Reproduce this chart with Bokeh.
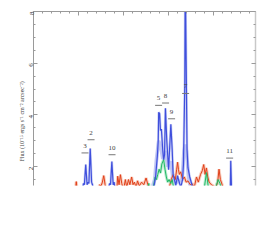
import math
from bokeh.plotting import figure
from bokeh.models import Range1d, LinearAxis, SingleIntervalTicker, Title
from bokeh.core.properties import value
from bokeh.embed import file_html
from bokeh.resources import INLINE

# ---- data (wavelength, flux in 1e-15 erg s^-1 cm^-2 arcsec^-2) ----
blue_wl = [6560, 6608, 6611, 6613, 6616, 6619, 6621, 6623, 6626, 6629, 6631, 6634,
           6665, 6669, 6671, 6674, 6677, 6679, 6682,
           6750, 6766, 6771, 6775, 6777, 6778, 6780, 6782, 6784, 6787,
           6789, 6791, 6793, 6796, 6798, 6800, 6802, 6805, 6808, 6810,
           6813, 6816, 6820, 6822, 6827, 6831, 6833, 6836, 6837, 6839,
           6841, 6843, 6847, 6851, 6856,
           6935, 6937, 6938, 6940, 6945]
blue_flux = [1.0, 1.0, 1.35, 1.3, 2.08, 1.3, 1.4, 1.35, 2.7, 1.4, 1.3, 1.0,
             1.0, 1.35, 1.3, 2.2, 1.3, 1.4, 1.0,
             1.0, 1.1, 1.58, 2.4, 3.0, 4.1, 4.05, 3.4, 3.45, 2.65,
             2.27, 2.45, 4.26, 3.0, 2.46, 1.88, 2.6, 3.64, 2.65, 1.7,
             1.5, 1.27, 1.65, 1.5, 1.2, 1.5, 2.08, 5.2, 9.5, 6.1,
             2.65, 1.96, 1.6, 1.35, 1.0,
             1.0, 1.0, 2.23, 1.0, 1.0]

blue_lt_wl = [6760, 6769, 6773, 6778, 6782, 6787, 6793, 6798, 6805, 6810,
              6820, 6830, 6834, 6837, 6840, 6844, 6850]
blue_lt_flux = [1.0, 1.5, 2.3, 3.0, 2.8, 2.3, 2.6, 2.0, 2.2, 1.5,
                1.4, 1.5, 2.6, 2.85, 2.6, 1.6, 1.1]

red_wl = [6580, 6593, 6595, 6597, 6640, 6647, 6650, 6653, 6656, 6659,
          6662, 6685, 6687, 6690, 6693, 6696, 6700, 6704, 6707, 6711,
          6714, 6718, 6721, 6724, 6728, 6731, 6735, 6740, 6745, 6750,
          6754, 6758, 6800, 6806, 6810, 6815, 6818, 6820, 6822, 6824,
          6827, 6831, 6835, 6839, 6843, 6848, 6852, 6857, 6862, 6866,
          6871, 6875, 6878, 6881, 6884, 6887, 6890, 6895, 6905, 6909,
          6912, 6915, 6919, 6925]
red_flux = [1.0, 1.1, 1.42, 1.1, 1.0, 1.3, 1.25, 1.4, 1.65, 1.3,
            1.0, 1.1, 1.63, 1.3, 1.69, 1.35, 1.1, 1.5, 1.2, 1.5,
            1.3, 1.6, 1.3, 1.4, 1.2, 1.45, 1.25, 1.4, 1.3, 1.56,
            1.3, 1.1, 1.1, 1.5, 1.69, 1.5, 1.9, 2.17, 1.88, 1.7,
            1.8, 1.5, 1.6, 1.4, 1.45, 1.3, 1.35, 1.2, 1.6, 1.4,
            1.7, 1.85, 2.08, 1.7, 1.95, 1.6, 1.4, 1.3, 1.2, 1.4,
            1.9, 1.5, 1.3, 1.0]

green_wl = [6750, 6754, 6756, 6758, 6766, 6770, 6773, 6776, 6779, 6782,
            6785, 6789, 6792, 6795, 6798, 6801, 6805, 6808, 6812,
            6878, 6884, 6889, 6905, 6910, 6914, 6920]
green_flux = [1.0, 1.2, 1.35, 1.1, 1.2, 1.6, 1.5, 1.7, 1.9, 1.75,
              2.1, 2.27, 1.9, 1.6, 1.4, 1.5, 1.35, 1.5, 1.1,
              1.0, 1.77, 1.1, 1.2, 1.5, 1.35, 1.0]

line_ids = ["3", "2", "10", "5", "8", "9", "7", "11"]
line_wl = [6614.4, 6627.8, 6674.4, 6777.8, 6793.3, 6806.7, 6837.8, 6935.6]
line_mark = [2.53, 3.04, 2.46, 4.37, 4.46, 3.85, 4.83, 2.33]

y_label = "Flux (10\u207b\u00b9\u2075 ergs s\u207b\u00b9 cm\u207b\u00b2 arcsec\u207b\u00b2)"

SERIF = "Liberation Serif"
AX = "#9a9a9a"

p = figure(width=259, height=241, output_backend="svg", toolbar_location=None,
           x_range=Range1d(6500, 6993), y_range=Range1d(1.27, 8),
           x_axis_location="above", min_border_left=33, min_border_right=4,
           min_border_top=11, min_border_bottom=56)
p.outline_line_color = None
p.background_fill_color = "white"
p.border_fill_color = "white"
p.grid.visible = False


def tick_only(ax):
    ax.major_label_text_font_size = "1px"
    ax.major_label_text_color = None
    ax.major_label_standoff = 0
    ax.major_tick_in = 4
    ax.major_tick_out = 0
    ax.minor_tick_in = 2
    ax.minor_tick_out = 0
    ax.major_tick_line_color = AX
    ax.minor_tick_line_color = AX


# top axis (ticks only)
xa = p.xaxis[0]
xa.ticker = SingleIntervalTicker(interval=100, num_minor_ticks=5)
tick_only(xa)
xa.axis_line_color = AX

ya = p.yaxis[0]
ya.ticker = SingleIntervalTicker(interval=2, num_minor_ticks=4)
ya.major_label_orientation = math.pi / 2
ya.major_label_text_font = SERIF
ya.major_label_text_font_size = "7px"
ya.major_label_text_color = "#333333"
ya.major_label_standoff = 2
ya.major_tick_in = 4
ya.major_tick_out = 0
ya.minor_tick_in = 2
ya.minor_tick_out = 0
ya.axis_line_color = AX
ya.major_tick_line_color = AX
ya.minor_tick_line_color = AX

ra = LinearAxis(ticker=SingleIntervalTicker(interval=2, num_minor_ticks=4))
tick_only(ra)
ra.axis_line_color = "#c8c8c8"
ra.axis_line_width = 1.5
p.add_layout(ra, "right")

# light envelopes
p.line(red_wl, red_flux, line_color="#f4a890", line_width=3, line_alpha=0.6)
p.line(green_wl, green_flux, line_color="#9ee6bd", line_width=3, line_alpha=0.7)
p.line(blue_lt_wl, blue_lt_flux, line_color="#b4bcf2", line_width=3.5, line_alpha=0.8)
p.line(blue_wl, blue_flux, line_color="#aab3f0", line_width=2.5, line_alpha=0.6)

# spectra
p.line(red_wl, red_flux, line_color="#e0401a", line_width=1)
p.line(green_wl, green_flux, line_color="#22b866", line_width=1)
p.line(blue_wl, blue_flux, line_color="#3f4fdc", line_width=1.2)

# line identifications
p.scatter(line_wl, line_mark, marker="dash", size=7, line_color="#777777", line_width=1)
p.text(line_wl, line_mark, text=line_ids, text_font=value(SERIF), text_font_size="7px",
       text_color="#444444", text_align="center", text_baseline="middle", y_offset=-7)

ytitle = Title(text=y_label, align="left", offset=24, standoff=0,
               text_font=SERIF, text_font_size="6px", text_font_style="normal",
               text_color="#444444")
p.add_layout(ytitle, "left")

open("out.html", "w").write(file_html(p, INLINE))
